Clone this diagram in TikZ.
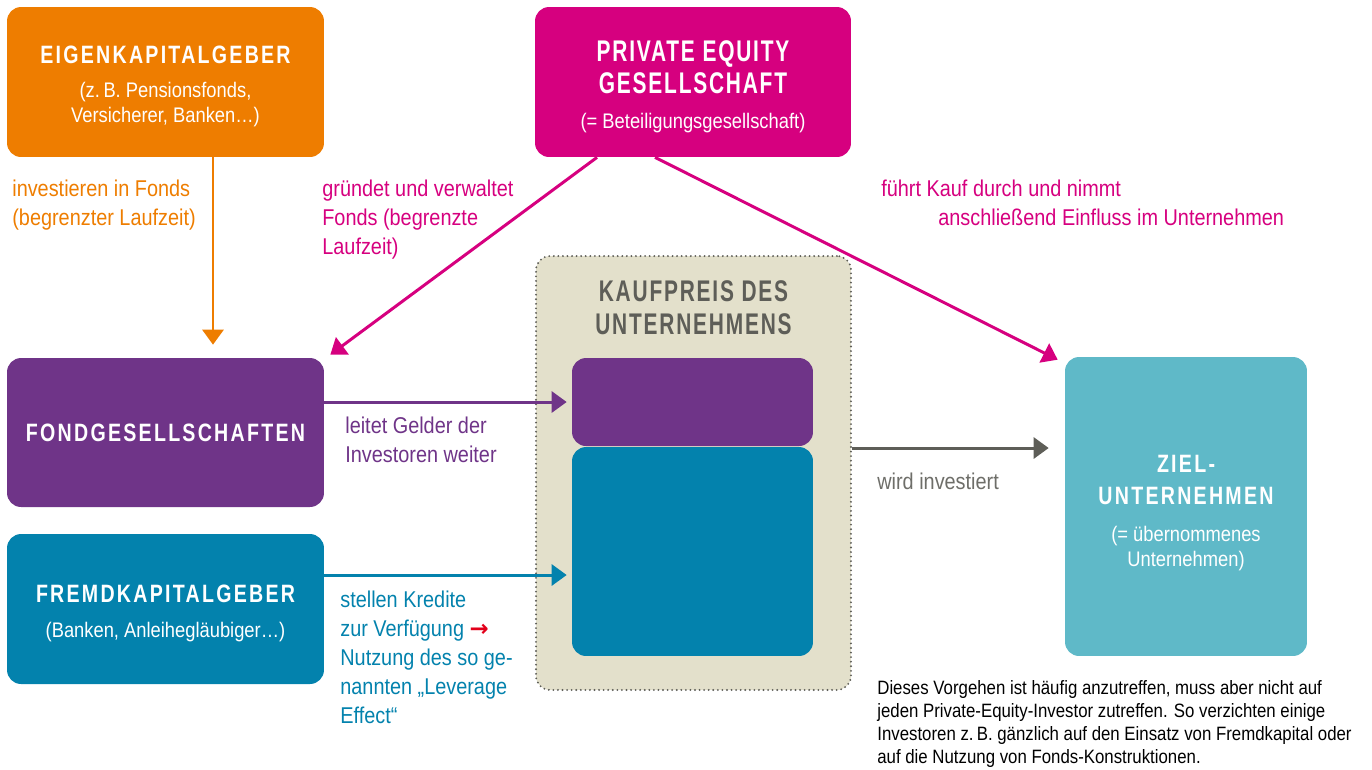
\documentclass[tikz,border=0pt]{standalone}
\usepackage{fontspec}
\setmainfont{Liberation Sans}[FakeStretch=0.87]
\newfontfamily\headfont{Liberation Sans}[FakeStretch=0.78,LetterSpace=9]
\newfontfamily\headnarrow{Liberation Sans}[FakeStretch=0.7,LetterSpace=6]
\newfontfamily\symfont{DejaVu Sans}
\usetikzlibrary{positioning,arrows.meta}
\definecolor{orangeC}{HTML}{EE7D00}
\definecolor{magentaC}{HTML}{D6007F}
\definecolor{purpleC}{HTML}{6F3488}
\definecolor{blueC}{HTML}{0382AD}
\definecolor{tealC}{HTML}{5FB9C8}
\definecolor{beigeC}{HTML}{E3E0CB}
\definecolor{greyC}{HTML}{5E5E58}
\definecolor{redC}{HTML}{E2001A}
\tikzset{
	box/.style={rectangle,rounded corners=0.28cm,text=white,align=center,inner sep=0pt},
	flow/.style={line width=1.7pt,-{Triangle[width=0.42cm,length=0.3cm]}},
	label/.style={font=\fontsize{13}{16.4}\selectfont,align=left,inner sep=0pt,anchor=north west},
	headwide/.style={font=\headfont\bfseries\fontsize{14.3}{18.7}\selectfont},
	headnarrow/.style={font=\headnarrow\bfseries\fontsize{17}{18.7}\selectfont}
}
\newcommand{\subtxt}{\normalfont\fontsize{12}{14.2}\selectfont}
\newcommand{\lift}[1]{\rule{0pt}{#1}}
\begin{document}
\begin{tikzpicture}[x=0.02cm,y=-0.02cm]
		\useasboundingbox (0,0) rectangle (1372,769);
		\node[box,headwide,fill=orangeC,minimum width=6.34cm,minimum height=3cm] (eigen) at (165.5,82)
			{\lift{15pt}EIGENKAPITALGEBER\\[1.1pt]\subtxt (z.\,B. Pensionsfonds,\\[-4.5pt]\subtxt Versicherer, Banken\dots)};
		\node[box,headnarrow,fill=magentaC,minimum width=6.32cm,minimum height=3cm] (pe) at (693,82)
			{\lift{17pt}PRIVATE EQUITY\\GESELLSCHAFT\\[1pt]\subtxt (= Beteiligungsgesellschaft)};
		\node[box,headwide,fill=purpleC,minimum width=6.34cm,minimum height=2.98cm] (fonds) at (165.5,432.5)
			{FONDGESELLSCHAFTEN};
		\node[box,headwide,fill=blueC,minimum width=6.34cm,minimum height=3cm] (fremd) at (165.5,609)
			{\lift{15pt}FREMDKAPITALGEBER\\[1.6pt]\subtxt (Banken, Anleihegläubiger\dots)};
		\node[box,fill=beigeC,draw=greyC,line width=1.2pt,dash pattern=on 0pt off 2.6pt,line cap=round,
			minimum width=6.3cm,minimum height=8.68cm] (kauf) at (693.5,473) {};
		\node[headnarrow,text=greyC,align=center,inner sep=0pt,anchor=north] (kaufhead)
			at ([yshift=-0.5cm]kauf.north) {KAUFPREIS DES\\UNTERNEHMENS};
		\node[box,fill=purpleC,minimum width=4.82cm,minimum height=1.76cm] (innerP) at (692.5,402) {};
		\node[box,fill=blueC,minimum width=4.82cm,minimum height=4.18cm] (innerB) at (692.5,551.5) {};
		\node[box,headwide,fill=tealC,minimum width=4.84cm,minimum height=5.98cm] (ziel) at (1186,506.5)
			{\lift{17pt}ZIEL-\\UNTERNEHMEN\\[2.2pt]\subtxt (= übernommenes\\[-4.5pt]\subtxt Unternehmen)};

		\draw[flow,orangeC,shorten >=0.26cm] ([xshift=0.95cm]eigen.south) -- ([xshift=0.95cm]fonds.north);
		\draw[flow,magentaC] ([xshift=-1.92cm]pe.south) -- ([shift={(0.12cm,0.06cm)}]fonds.north east);
		\draw[flow,magentaC] ([xshift=-0.76cm]pe.south) -- ([shift={(-0.14cm,-0.06cm)}]ziel.north west);
		\draw[flow,purpleC,shorten >=0.1cm] (fonds.east |- innerP.west) -- (innerP.west);
		\draw[flow,blueC,shorten >=0.1cm] ([yshift=0.68cm]fremd.east) coordinate (b0) -- (b0 -| innerB.west);
		\draw[flow,greyC,shorten >=0.32cm] ([yshift=0.5cm]kauf.east) coordinate (g0) -- (g0 -| ziel.west);

		\node[label,text=orangeC] (invest) at (12,180) {investieren in Fonds\\(begrenzter Laufzeit)};
		\node[label,text=magentaC] (gruendet) at (322,180) {gründet und verwaltet\\Fonds (begrenzte\\Laufzeit)};
		\node[label,text=magentaC] (kauft) at (881,180)
			{führt Kauf durch und nimmt\\\hspace*{1.14cm}anschließend Einfluss im Unternehmen};
		\node[label,text=purpleC] (leitet) at (345,417) {leitet Gelder der\\Investoren weiter};
		\node[label,text=blueC] (kredite) at (340,591)
			{stellen Kredite\\zur Verfügung {\color{redC}\symfont\bfseries →}\\Nutzung des so ge-\\nannten „Leverage\\Effect“};
		\node[label,text=greyC!90] (invest2) at (877,473) {wird investiert};
		\node[label,font=\fontsize{11}{13.05}\selectfont] (note) at (877,680)
			{Dieses Vorgehen ist häufig anzutreffen, muss aber nicht auf\\jeden Private-Equity-Investor zutreffen. So verzichten einige\\Investoren z.\,B. gänzlich auf den Einsatz von Fremdkapital oder\\auf die Nutzung von Fonds-Konstruktionen.};
\end{tikzpicture}
\end{document}
